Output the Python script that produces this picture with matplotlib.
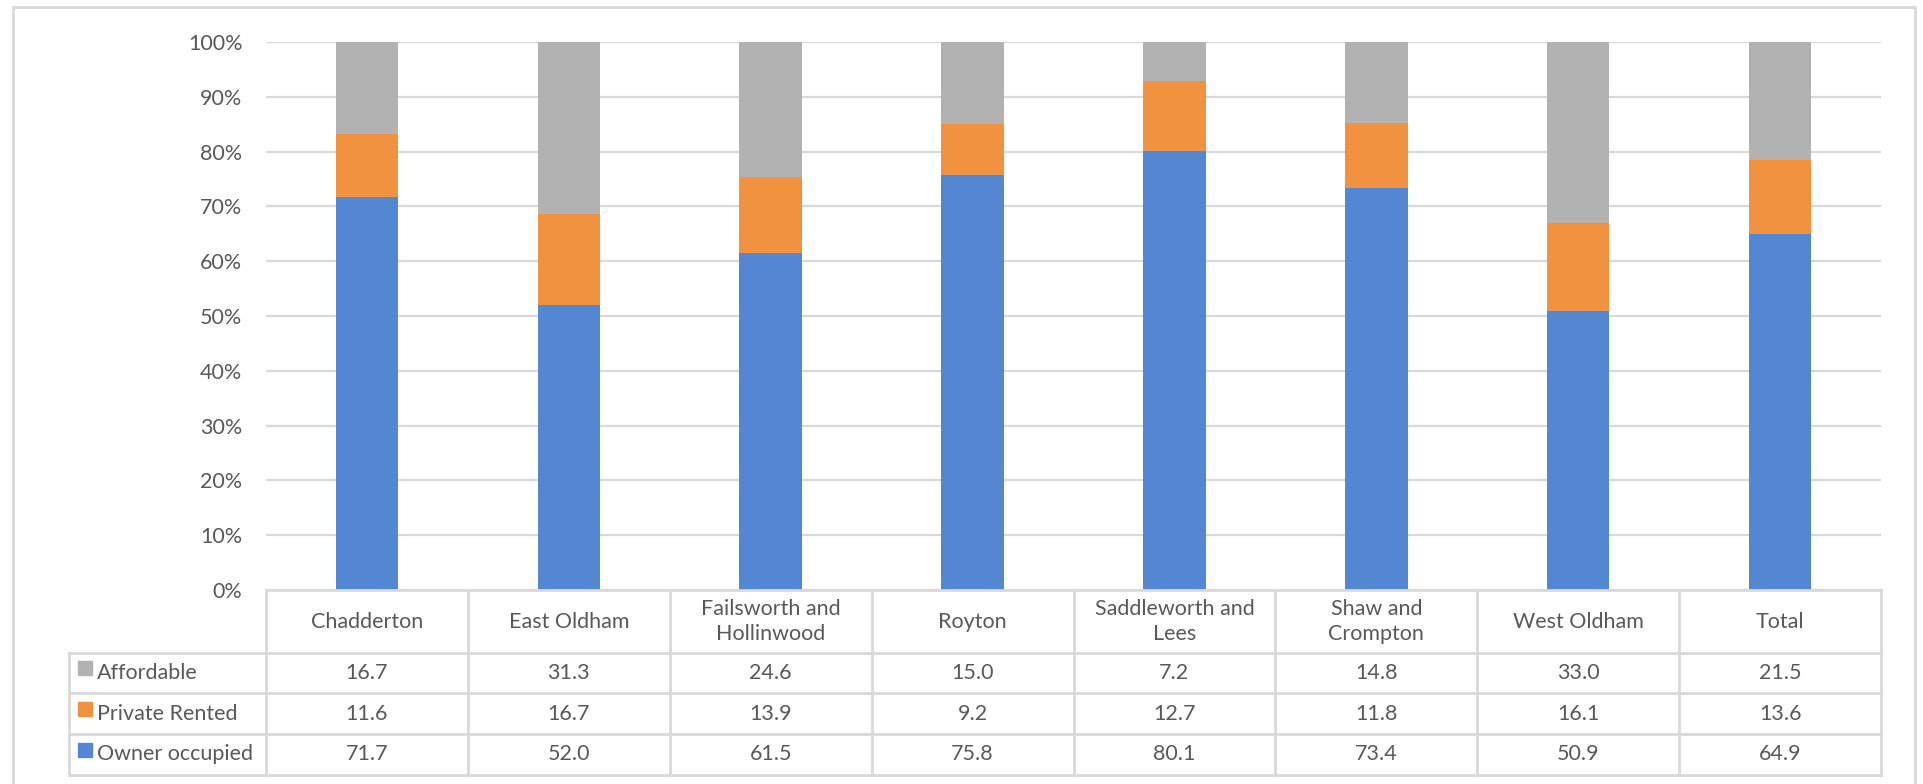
import matplotlib.pyplot as plt
from matplotlib.patches import Rectangle
import numpy as np

areas = ['Chadderton', 'East Oldham', 'Failsworth and\nHollinwood', 'Royton',
         'Saddleworth and\nLees', 'Shaw and\nCrompton', 'West Oldham', 'Total']
owner = [71.7, 52.0, 61.5, 75.8, 80.1, 73.4, 50.9, 64.9]
private = [11.6, 16.7, 13.9, 9.2, 12.7, 11.8, 16.1, 13.6]
affordable = [16.7, 31.3, 24.6, 15.0, 7.2, 14.8, 33.0, 21.5]

BLUE = '#5387D1'
ORANGE = '#F19240'
GREY = '#B2B2B2'
LINE = '#D9D9D9'
TEXT = '#595959'
FS = 15.5

plt.rcParams['font.family'] = ['Lato', 'DejaVu Sans']

W, H = 1923, 784
fig = plt.figure(figsize=(W / 100, H / 100), dpi=100)

# outer frame of the chart
fig.patches.append(Rectangle((13 / W, -0.05), (1915 - 13) / W, (H - 7) / H + 0.05,
                             transform=fig.transFigure, fill=False,
                             edgecolor=LINE, linewidth=2))

left, right, top, base = 266, 1881, 42, 590
ax = fig.add_axes([left / W, (H - base) / H, (right - left) / W, (base - top) / H])

x = np.arange(len(areas))
bw = 0.31
ax.bar(x, owner, bw, color=BLUE, zorder=3)
ax.bar(x, private, bw, bottom=owner, color=ORANGE, zorder=3)
ax.bar(x, affordable, bw, bottom=np.add(owner, private), color=GREY, zorder=3)

ax.set_xlim(-0.5, len(areas) - 0.5)
ax.set_ylim(0, 100)
ax.set_yticks(range(0, 101, 10))
ax.set_yticklabels([f'{v}%' for v in range(0, 101, 10)], color=TEXT, fontsize=FS)
ax.tick_params(axis='y', length=0, pad=17)
ax.set_xticks([])
ax.grid(axis='y', color=LINE, linewidth=1.6, zorder=0)
for s in ax.spines.values():
    s.set_visible(False)

# data table under the bars
tleft, tbottom = 69, 775
colw = (right - left) / len(areas)
lw = (left - tleft) / colw
tax = fig.add_axes([tleft / W, (H - tbottom) / H, (right - tleft) / W, (tbottom - base) / H])
tax.set_xlim(-0.5 - lw, len(areas) - 0.5)
tax.set_ylim(0, tbottom - base)
tax.axis('off')

rows = [0, 41, 82, 122, tbottom - base]
edges = np.arange(len(areas) + 1) - 0.5
kw = dict(color=LINE, linewidth=2, clip_on=False)
tax.plot([edges[0], edges[-1]], [rows[-1]] * 2, **kw)
for r in rows[:-1]:
    tax.plot([-0.5 - lw, edges[-1]], [r, r], **kw)
for e in edges:
    tax.plot([e, e], [0, rows[-1]], **kw)
tax.plot([-0.5 - lw] * 2, [0, rows[3]], **kw)

for i, name in enumerate(areas):
    tax.text(i, (rows[3] + rows[4]) / 2, name, ha='center', va='center',
             color=TEXT, fontsize=FS, linespacing=1.3)

series = [('Affordable', affordable, GREY),
          ('Private Rented', private, ORANGE),
          ('Owner occupied', owner, BLUE)]
for k, (label, vals, col) in enumerate(series):
    yc = (rows[3 - k] + rows[2 - k]) / 2
    sx = -0.5 - lw + 9 / colw
    tax.add_patch(Rectangle((sx, yc - 2), 14 / colw, 14, color=col))
    tax.text(sx + 19 / colw, yc, label, ha='left', va='center', color=TEXT, fontsize=FS)
    for i, v in enumerate(vals):
        tax.text(i, yc, f'{v:.1f}', ha='center', va='center', color=TEXT, fontsize=FS)

fig.savefig('out.png', dpi=100)
